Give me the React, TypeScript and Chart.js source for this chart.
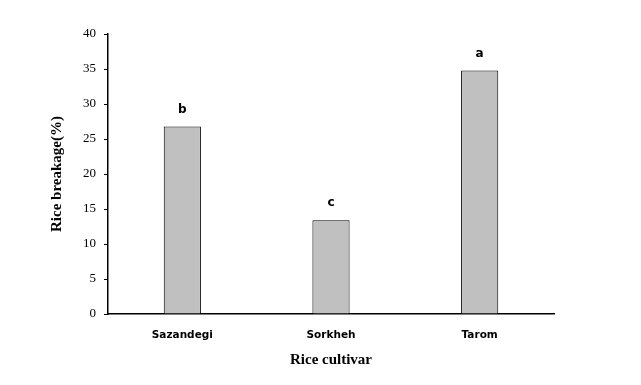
import React, { useEffect, useRef } from "react";
import { Chart, registerables } from "chart.js";

Chart.register(...registerables);

const categories = ["Sazandegi", "Sorkheh", "Tarom"];
const breakage = [26.8, 13.4, 34.8];
const groupLetters = ["b", "c", "a"];
const yTicks = [0, 5, 10, 15, 20, 25, 30, 35, 40];

const letterPlugin = {
  id: "letters",
  afterDatasetsDraw(chart: any) {
    const ctx = chart.ctx;
    const meta = chart.getDatasetMeta(0);
    ctx.save();
    ctx.font = "bold 12px 'DejaVu Sans', sans-serif";
    ctx.fillStyle = "#000";
    ctx.textAlign = "center";
    ctx.textBaseline = "middle";
    meta.data.forEach((bar: any, i: number) => {
      ctx.fillText(groupLetters[i], bar.x, bar.y - 17);
    });
    ctx.restore();
  },
};

export default function App() {
  const ref = useRef<HTMLCanvasElement>(null);
  useEffect(() => {
    document.body.style.margin = "0";
    const chart = new Chart(ref.current!, {
      type: "bar",
      data: {
        labels: categories,
        datasets: [
          {
            data: breakage,
            backgroundColor: "#c0c0c0",
            borderColor: "#000",
            borderWidth: 1,
            barPercentage: 0.25,
            categoryPercentage: 1,
          },
        ],
      },
      options: {
        responsive: false,
        animation: false,
        layout: { padding: { left: 50, top: 34, right: 87, bottom: 17 } },
        plugins: {
          legend: { display: false },
          tooltip: { enabled: false },
        },
        scales: {
          x: {
            grid: { display: false },
            border: { display: true, color: "#000", width: 1.5 },
            ticks: {
              color: "#000",
              padding: 7,
              font: { family: "'DejaVu Sans', sans-serif", size: 10.5, weight: "bold" },
            },
            title: {
              display: true,
              text: "Rice cultivar",
              color: "#000",
              padding: { top: 0, bottom: 0 },
              font: { family: "'Liberation Serif', serif", size: 15, weight: "bold", lineHeight: 1 },
            },
            afterFit(scale: any) {
              scale.height = 54;
            },
          },
          y: {
            min: 0,
            max: 40,
            afterBuildTicks(scale: any) {
              scale.ticks = yTicks.map((v) => ({ value: v }));
            },
            grid: {
              display: true,
              drawOnChartArea: false,
              drawTicks: true,
              tickLength: 4,
              color: "#000",
            },
            border: { display: true, color: "#000", width: 1.5 },
            ticks: {
              color: "#000",
              padding: 8,
              font: { family: "'Liberation Serif', serif", size: 13 },
            },
            title: {
              display: true,
              text: "Rice breakage(%)",
              color: "#000",
              padding: { top: 0, bottom: 0 },
              font: { family: "'Liberation Serif', serif", size: 15, weight: "bold", lineHeight: 1 },
            },
            afterFit(scale: any) {
              scale.width = 58;
            },
          },
        },
      },
      plugins: [letterPlugin],
    });
    return () => chart.destroy();
  }, []);
  return (
    <div style={{ width: 641, height: 385 }}>
      <canvas ref={ref} width={641} height={385} />
    </div>
  );
}
